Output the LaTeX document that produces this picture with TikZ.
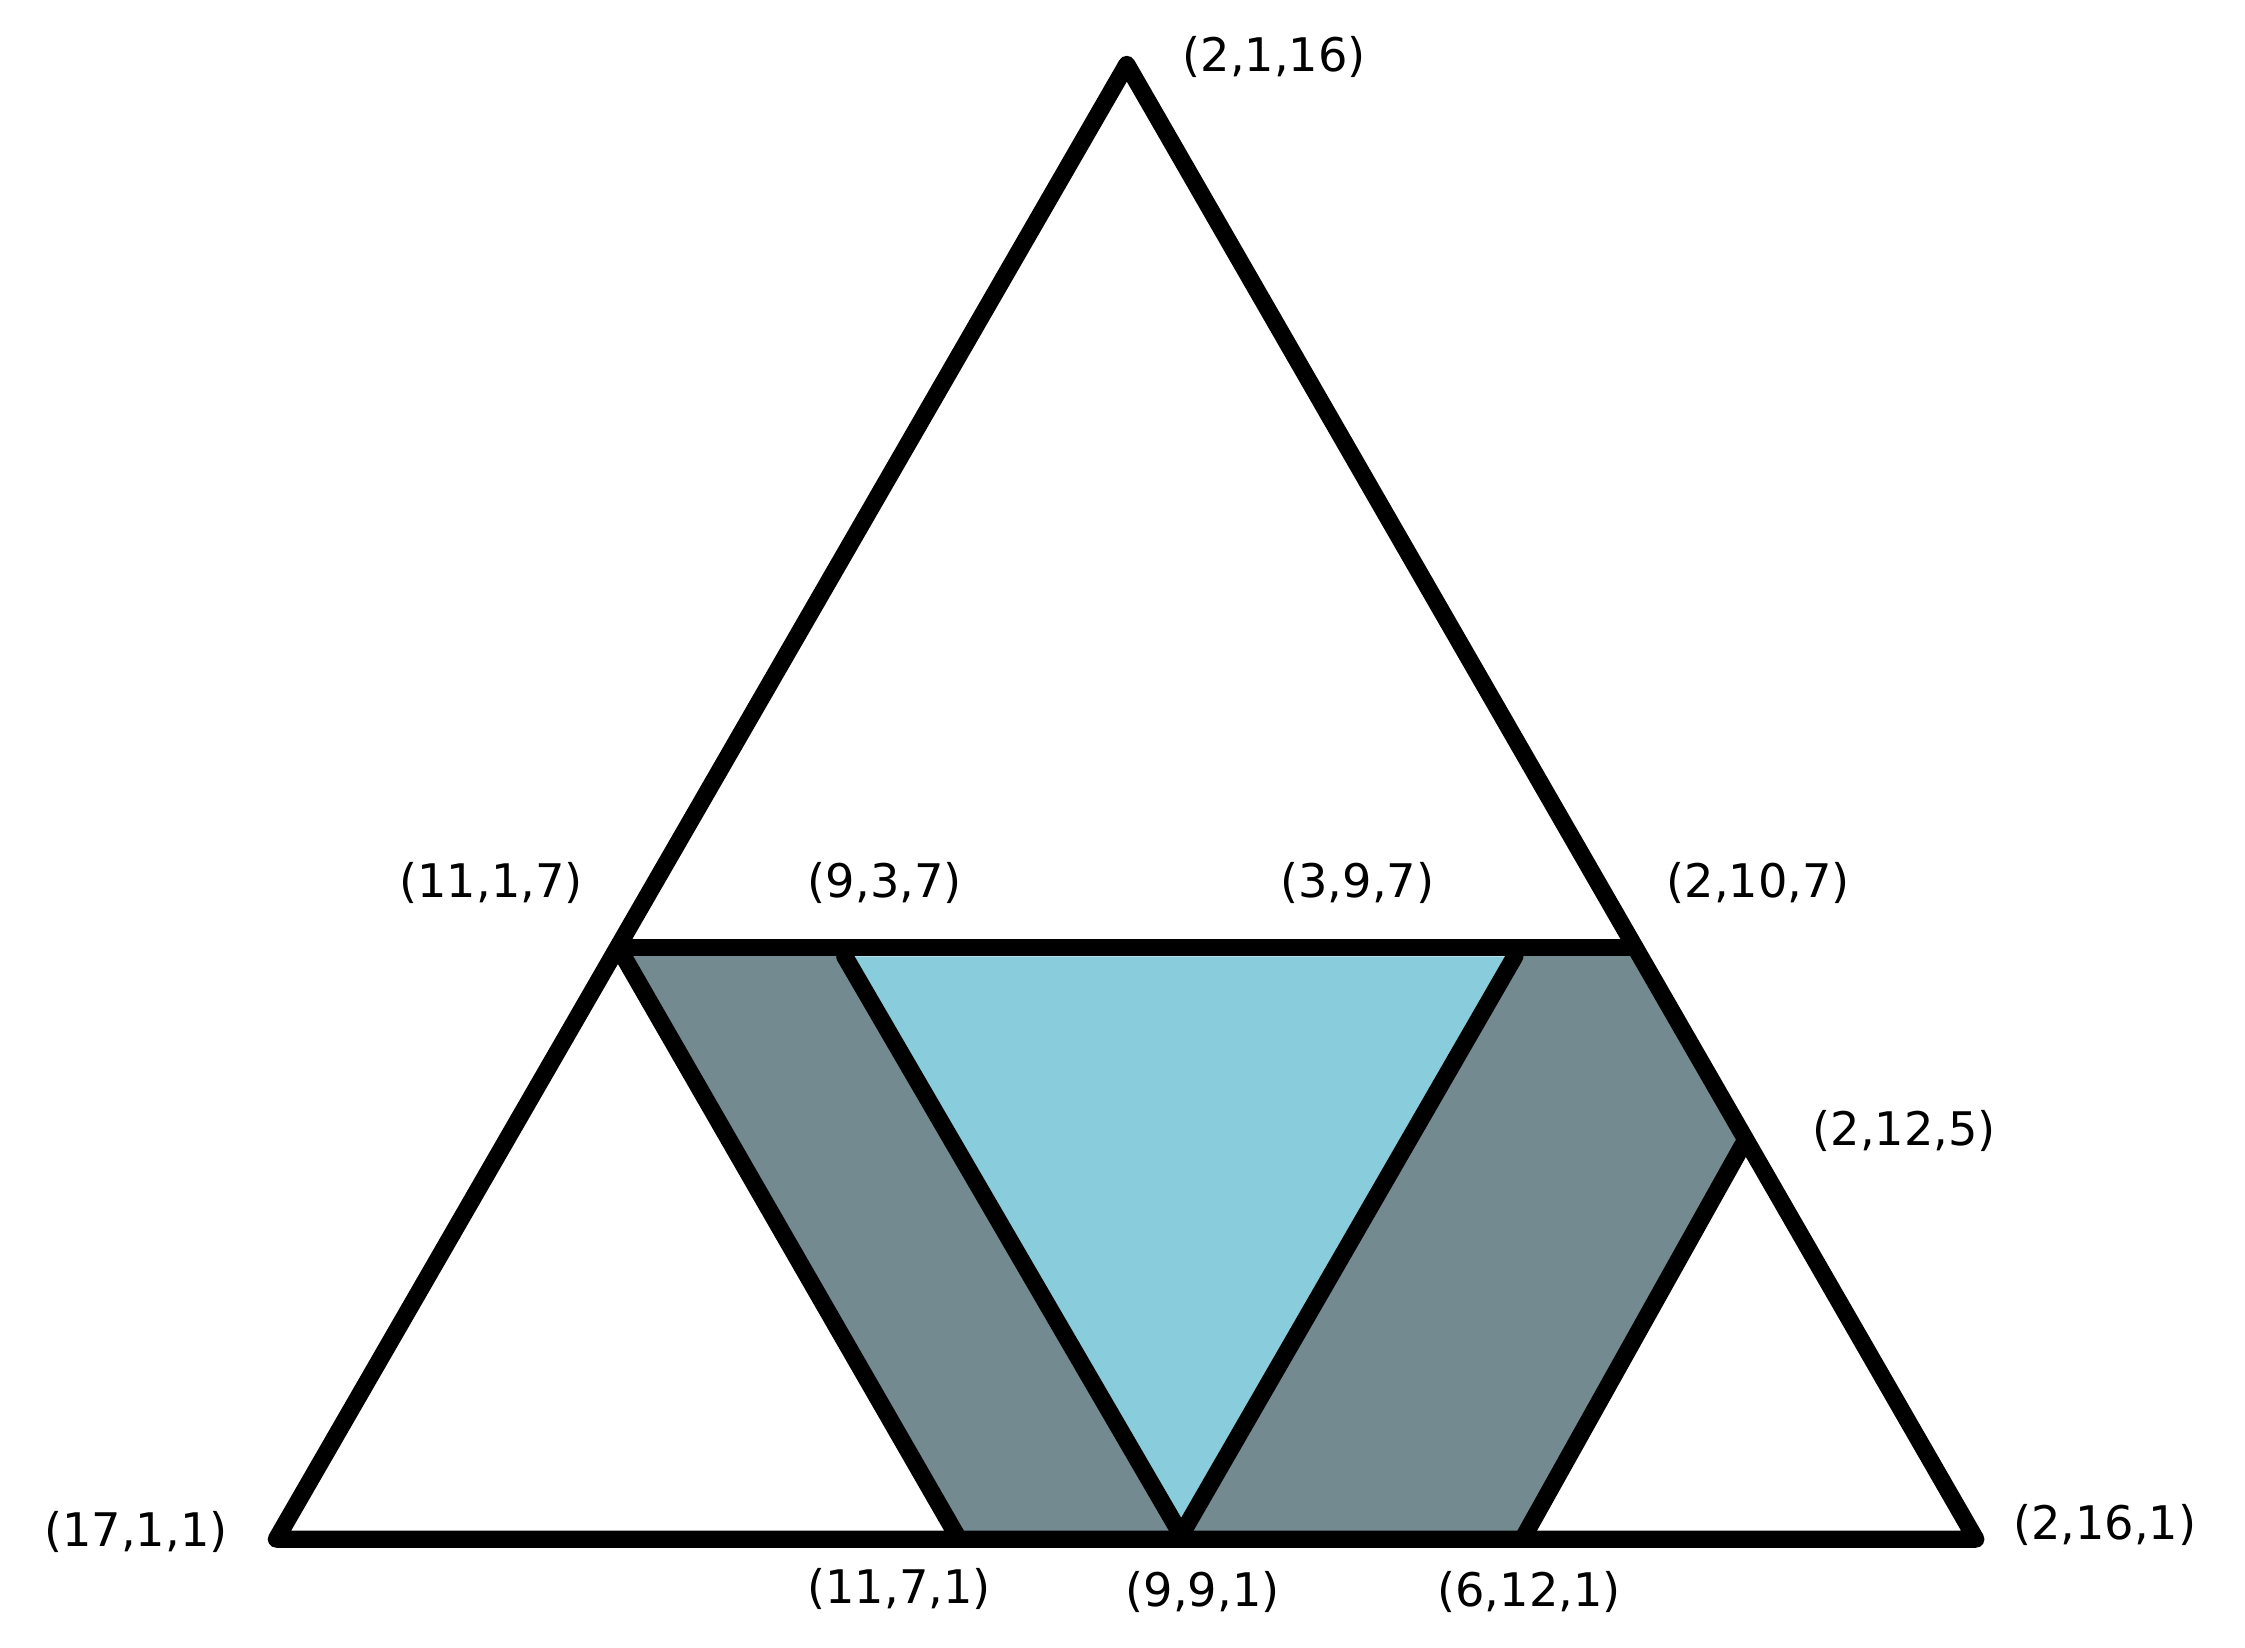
\documentclass[tikz,border=0pt]{standalone}
\usepackage{fontspec}
\setmainfont{DejaVu Sans}
\begin{document}
\begin{tikzpicture}[x=0.05cm,y=-0.05cm,
  edge/.style={line width=0.6cm,line join=round,line cap=round},
  lab/.style={font=\fontsize{46}{55}\selectfont,inner sep=0pt}]
\useasboundingbox (0,0) rectangle (1568,1151);
\definecolor{band}{HTML}{728A90}
\definecolor{mid}{HTML}{89CDDD}
\coordinate (T) at (787,45);
\coordinate (BL) at (193,1075);
\coordinate (BR) at (1380,1075);
\coordinate (A) at (432,662);
\coordinate (B) at (590,668);
\coordinate (C) at (1058,668);
\coordinate (D) at (1140,662);
\coordinate (E) at (1217,800);
\coordinate (F) at (668,1072);
\coordinate (G) at (825,1072);
\coordinate (H) at (1065,1072);
\fill[band] (A) -- (B) -- (G) -- (F) -- cycle;
\fill[band] (C) -- (D) -- (E) -- (H) -- (G) -- cycle;
\fill[mid] (B) -- (C) -- (G) -- cycle;
\draw[edge] (T) -- (BL) -- (BR) -- cycle;
\draw[edge] (A) -- (D);
\draw[edge] (A) -- (F);
\draw[edge] (B) -- (G) -- (C);
\draw[edge] (E) -- (H);
\node[lab] (l1) at (890,40) {(2,1,16)};
\node[lab] (l2) at (343,617) {(11,1,7)};
\node[lab] (l3) at (618,617) {(9,3,7)};
\node[lab] (l4) at (948,617) {(3,9,7)};
\node[lab] (l5) at (1228,617) {(2,10,7)};
\node[lab] (l6) at (1330,790) {(2,12,5)};
\node[lab] (l7) at (95,1070) {(17,1,1)};
\node[lab] (l8) at (1470,1065) {(2,16,1)};
\node[lab] (l9) at (628,1110) {(11,7,1)};
\node[lab] (l10) at (840,1112) {(9,9,1)};
\node[lab] (l11) at (1068,1112) {(6,12,1)};
\end{tikzpicture}
\end{document}
